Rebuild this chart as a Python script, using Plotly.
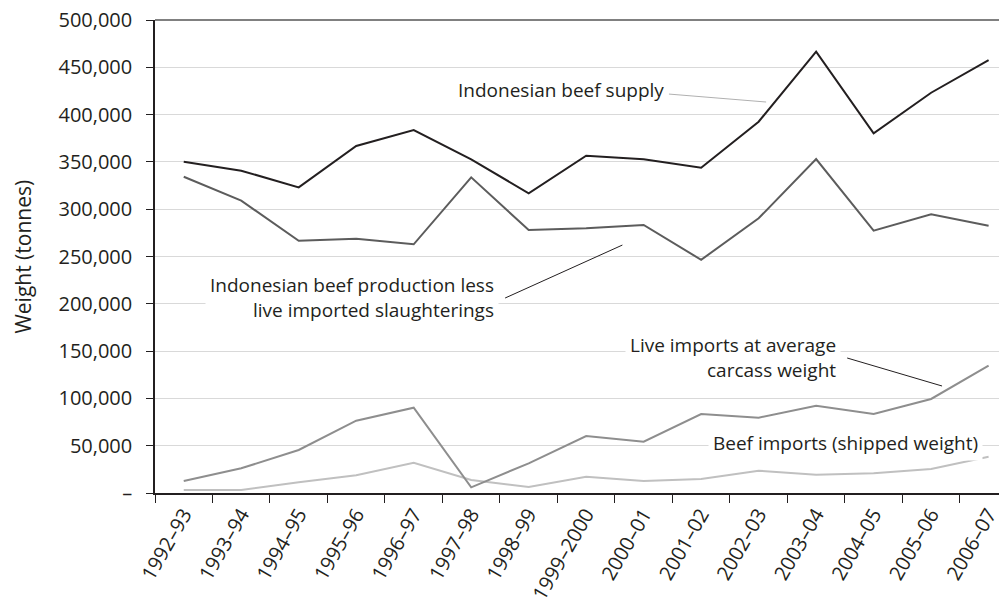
import plotly.graph_objects as go

categories = ["1992–93", "1993–94", "1994–95", "1995–96", "1996–97", "1997–98",
              "1998–99", "1999–2000", "2000–01", "2001–02", "2002–03", "2003–04",
              "2004–05", "2005–06", "2006–07"]

beef_supply = [350200, 340700, 323100, 366800, 383700, 352700, 316800, 356500,
               352700, 343900, 392500, 466500, 380200, 423100, 457700]
beef_production = [334300, 309000, 266700, 268800, 262900, 333700, 278000, 279800,
                   283300, 246500, 290400, 353000, 277300, 294600, 282500]
live_imports = [12700, 26100, 45500, 76400, 90200, 6000, 31400, 60200,
                54300, 83500, 79600, 92300, 83500, 99400, 134600]
beef_imports = [3200, 3200, 11300, 18700, 32000, 13700, 6300, 17200,
                12700, 14800, 23600, 19300, 20800, 25400, 38400]

y_tickvals = [0, 50000, 100000, 150000, 200000, 250000, 300000, 350000, 400000, 450000, 500000]
y_ticktext = ["–", "50,000", "100,000", "150,000", "200,000", "250,000", "300,000",
              "350,000", "400,000", "450,000", "500,000"]

FONT = "Open Sans"
TXT = "#231f20"
x_idx = list(range(len(categories)))

fig = go.Figure()
series = [
    (beef_imports, "#c0c0c0"),
    (live_imports, "#8e8e8e"),
    (beef_production, "#5c5c5c"),
    (beef_supply, "#231f20"),
]
for vals, col in series:
    fig.add_trace(go.Scatter(x=x_idx, y=vals, mode="lines",
                             line=dict(color=col, width=2), showlegend=False))

# top border line
fig.add_shape(type="line", xref="paper", yref="paper", x0=0, x1=1.01, y0=1, y1=1,
              line=dict(color="#808080", width=2.2), layer="above")

ann_font = dict(family=FONT, size=19, color=TXT)
# leader lines
fig.add_shape(type="line", xref="x", yref="y", x0=8.44, y0=421700, x1=10.13, y1=413300,
              line=dict(color="#b0b0b0", width=1))
fig.add_shape(type="line", xref="x", yref="y", x0=5.59, y0=206100, x1=7.63, y1=262100,
              line=dict(color=TXT, width=1))
fig.add_shape(type="line", xref="x", yref="y", x0=11.54, y0=142700, x1=13.19, y1=113100,
              line=dict(color=TXT, width=1))

fig.add_annotation(x=4.74, y=426000, xref="x", yref="y", text="Indonesian beef supply",
                   showarrow=False, xanchor="left", yanchor="middle", font=ann_font)
fig.add_annotation(x=5.49, y=206600, xref="x", yref="y",
                   text="Indonesian beef production less<br>live imported slaughterings",
                   showarrow=False, xanchor="right", yanchor="middle", align="right",
                   font=ann_font, bgcolor="white", borderpad=4)
fig.add_annotation(x=11.43, y=143200, xref="x", yref="y",
                   text="Live imports at average<br>carcass weight",
                   showarrow=False, xanchor="right", yanchor="middle", align="right",
                   font=ann_font, bgcolor="white", borderpad=4)
fig.add_annotation(x=9.12, y=52850, xref="x", yref="y", text="Beef imports (shipped weight)",
                   showarrow=False, xanchor="left", yanchor="middle",
                   font=ann_font, bgcolor="white", borderpad=4)

# y-axis title
fig.add_annotation(x=-0.156, y=0.5, xref="paper", yref="paper", text="Weight (tonnes)",
                   showarrow=False, textangle=-90, xanchor="center", yanchor="middle",
                   font=dict(family=FONT, size=21, color=TXT))

# margins compensate for the page's 8px body margin
fig.update_layout(
    width=1007, height=606,
    margin=dict(l=147, r=8, t=12, b=121),
    paper_bgcolor="white", plot_bgcolor="white",
    font=dict(family=FONT, color=TXT),
    xaxis=dict(
        range=[-0.5, 14.32], automargin=False, ticklabeloverflow="allow",
        tickmode="array", tickvals=x_idx, ticktext=categories,
        tickangle=-60, tickfont=dict(size=20, family=FONT, color=TXT),
        showgrid=False, zeroline=False,
        showline=True, linecolor=TXT, linewidth=1.5,
        ticks="",
    ),
    yaxis=dict(
        range=[0, 500000], automargin=False, ticklabeloverflow="allow",
        tickmode="array", tickvals=y_tickvals, ticktext=y_ticktext,
        tickfont=dict(size=20, family=FONT, color=TXT),
        showgrid=True, gridcolor="#d9d9d9", gridwidth=1,
        zeroline=False,
        showline=True, linecolor=TXT, linewidth=1.5,
        ticks="outside", ticklen=7, tickcolor=TXT, tickwidth=1.2,
        ticklabelstandoff=10,
    ),
)

# x tick marks at category boundaries (drawn as minor ticks)
fig.update_xaxes(minor=dict(tickmode="array", tickvals=[i - 0.5 for i in range(len(categories))],
                            ticks="outside", ticklen=8, tickcolor=TXT, tickwidth=1.2,
                            showgrid=False))

fig.write_html("out.html")
